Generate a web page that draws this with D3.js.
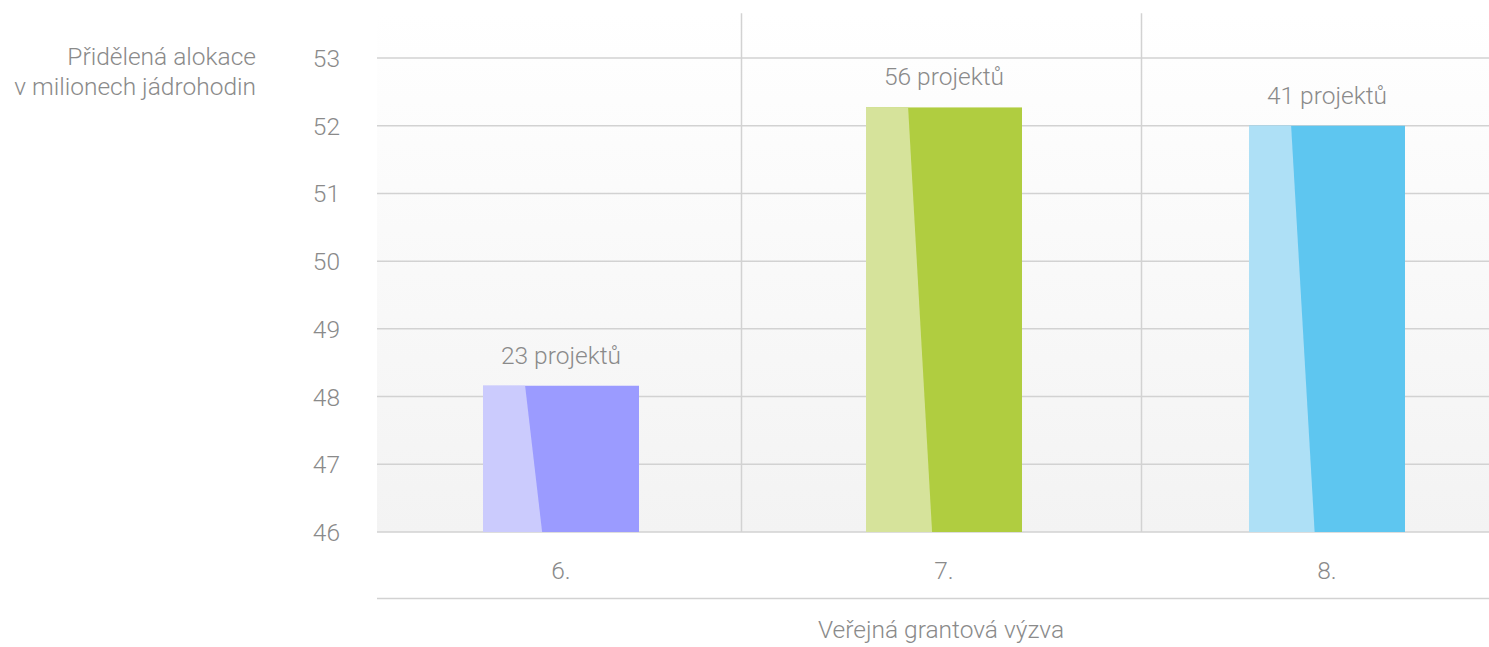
<!DOCTYPE html>
<html><head><meta charset="utf-8">
<script src="https://cdn.jsdelivr.net/npm/d3@7"></script>
<style>
html,body{margin:0;padding:0;background:#fff;}
text{font-family:"Helvetica Neue",Roboto,"Liberation Sans",sans-serif;font-weight:300;fill:#8a8a8a;}
</style></head>
<body>
<svg id="chart" width="1489" height="647"></svg>
<script>
const categories = ["6.", "7.", "8."];
const values = [48.16, 52.27, 52.0];
const projectLabels = ["23 projektů", "56 projektů", "41 projektů"];
const yTicks = [46, 47, 48, 49, 50, 51, 52, 53];
const darkColors = ["#9b9bff", "#b0cd40", "#5ec6f0"];
const lightColors = ["#cbcbfd", "#d6e39b", "#aee0f6"];
const yTitle = ["Přidělená alokace", "v milionech jádrohodin"];
const xTitle = "Veřejná grantová výzva";

(function () {
const plotLeft = 377, plotRight = 1489;
const fs = 24.5;
const svg = d3.select("#chart");

const y = d3.scaleLinear().domain([46, 53]).range([532, 58]);
const x = d3.scalePoint().domain(categories).range([561, 1327]);
const xGrid = d3.scaleLinear().domain([0, 3]).range([341.5, 1541.5]);
const barW = 156;
const plotTop = y(53.66), plotBottom = y(46);

const defs = svg.append("defs");
const grad = defs.append("linearGradient").attr("id", "bg").attr("x1", 0).attr("x2", 0).attr("y1", 0).attr("y2", 1);
grad.append("stop").attr("offset", "0%").attr("stop-color", "#ffffff");
grad.append("stop").attr("offset", "100%").attr("stop-color", "#f3f3f3");

svg.append("rect").attr("x", plotLeft).attr("y", plotTop).attr("width", plotRight - plotLeft).attr("height", plotBottom - plotTop).attr("fill", "url(#bg)");

svg.append("g").selectAll("line").data(yTicks).join("line")
  .attr("x1", plotLeft).attr("x2", plotRight)
  .attr("y1", d => y(d)).attr("y2", d => y(d))
  .attr("stroke", "#d2d2d2").attr("stroke-width", 1.5);

svg.append("g").selectAll("line").data([1, 2]).join("line")
  .attr("x1", d => xGrid(d)).attr("x2", d => xGrid(d))
  .attr("y1", plotTop).attr("y2", plotBottom)
  .attr("stroke", "#d2d2d2").attr("stroke-width", 1.5);

svg.append("g").selectAll("text").data(yTicks).join("text")
  .attr("x", 340).attr("y", d => y(d) + 9)
  .attr("text-anchor", "end").attr("font-size", fs).text(d => d);

const bars = svg.append("g").selectAll("g").data(values).join("g");
bars.append("rect")
  .attr("x", (d, i) => x(categories[i]) - barW / 2)
  .attr("y", d => y(d))
  .attr("width", barW)
  .attr("height", d => plotBottom - y(d))
  .attr("fill", (d, i) => darkColors[i]);
bars.append("path")
  .attr("d", (d, i) => {
    const x0 = x(categories[i]) - barW / 2;
    const t = y(d);
    const h = plotBottom - t;
    const topSplit = x0 + barW * 0.27;
    const botSplit = topSplit + 17 + 0.025 * (h - 146);
    return `M${x0},${t}L${topSplit},${t}L${botSplit},${plotBottom}L${x0},${plotBottom}Z`;
  })
  .attr("fill", (d, i) => lightColors[i]);

svg.append("g").selectAll("text").data(values).join("text")
  .attr("x", (d, i) => x(categories[i]))
  .attr("y", d => y(d) - 22)
  .attr("text-anchor", "middle").attr("font-size", fs)
  .text((d, i) => projectLabels[i]);

svg.append("g").selectAll("text").data(categories).join("text")
  .attr("x", d => x(d)).attr("y", 579)
  .attr("text-anchor", "middle").attr("font-size", fs).text(d => d);

svg.append("line").attr("x1", plotLeft).attr("x2", plotRight).attr("y1", 598.5).attr("y2", 598.5)
  .attr("stroke", "#d2d2d2").attr("stroke-width", 1.5);

svg.append("g").selectAll("text").data(yTitle).join("text")
  .attr("x", 256).attr("y", (d, i) => 65 + i * 30)
  .attr("text-anchor", "end").attr("font-size", fs).text(d => d);

svg.append("text").attr("x", 941).attr("y", 638)
  .attr("text-anchor", "middle").attr("font-size", fs).text(xTitle);
})();
</script>
</body></html>
